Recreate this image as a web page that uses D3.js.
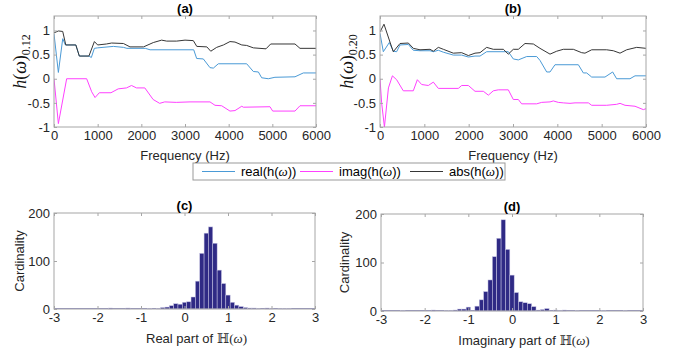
<!DOCTYPE html>
<html>
<head>
<meta charset="utf-8">
<script src="https://cdn.jsdelivr.net/npm/d3@7"></script>
<style>
  body { margin: 0; background: #fff; }
</style>
</head>
<body>
<svg id="chart" width="683" height="356" font-family="'Liberation Sans', Arial, sans-serif"></svg>
<script>
// ---- panel (a): h(w)_0.12 ----
const absA_f  = [0, 100, 200, 270, 500, 580, 800, 925, 1000, 1200, 1320, 1590, 1740, 2050, 2275, 2465, 2580, 2810, 3000, 3190, 3270, 3500, 3590, 3725, 3880, 4030, 4145, 4300, 4412, 4565, 4855, 4962, 5519, 5633, 6000];
const absA_v  = [0.95, 0.99, 0.98, 0.70, 0.70, 0.47, 0.47, 0.77, 0.70, 0.72, 0.74, 0.73, 0.66, 0.66, 0.75, 0.80, 0.78, 0.78, 0.80, 0.79, 0.67, 0.66, 0.57, 0.65, 0.70, 0.77, 0.76, 0.70, 0.69, 0.64, 0.62, 0.72, 0.72, 0.63, 0.63];
const realA_f = [0, 100, 200, 260, 500, 580, 800, 855, 924, 1000, 1360, 1590, 1670, 2090, 2200, 3200, 3267, 3420, 3572, 3649, 3763, 4412, 4565, 4680, 4756, 4908, 5060, 5519, 5710, 6000];
const realA_v = [0.93, 0.13, 0.83, 0.70, 0.70, 0.47, 0.47, 0.44, 0.63, 0.64, 0.67, 0.65, 0.63, 0.63, 0.60, 0.60, 0.42, 0.41, 0.23, 0.22, 0.31, 0.31, 0.15, 0.14, 0.02, 0.00, 0.03, 0.04, 0.12, 0.12];
const imagA_f = [0, 100, 290, 748, 863, 940, 1038, 1305, 1470, 1660, 1775, 1890, 2080, 2270, 2420, 2535, 2800, 3115, 3572, 3687, 3840, 4030, 4145, 4300, 4336, 4946, 5008, 5519, 5633, 6000];
const imagA_v = [0.0, -0.93, 0.0, 0.0, -0.27, -0.39, -0.29, -0.29, -0.21, -0.19, -0.14, -0.19, -0.19, -0.43, -0.51, -0.48, -0.49, -0.48, -0.48, -0.55, -0.56, -0.67, -0.66, -0.57, -0.59, -0.58, -0.67, -0.67, -0.56, -0.56];

// ---- panel (b): h(w)_0.20 ----
const absB_f  = [0, 90, 225, 300, 451, 639, 751, 902, 1128, 1203, 1316, 1429, 1654, 1842, 1993, 2143, 2256, 2406, 2556, 2782, 2894, 3007, 3120, 3271, 3459, 3609, 3835, 3985, 4135, 4361, 4549, 4624, 4775, 5113, 5263, 5414, 5564, 5790, 6000];
const absB_v  = [0.97, 1.13, 0.76, 0.56, 0.73, 0.74, 0.63, 0.60, 0.61, 0.57, 0.65, 0.61, 0.53, 0.54, 0.48, 0.53, 0.54, 0.65, 0.61, 0.61, 0.51, 0.61, 0.61, 0.73, 0.72, 0.63, 0.51, 0.57, 0.61, 0.61, 0.54, 0.53, 0.60, 0.60, 0.58, 0.53, 0.60, 0.65, 0.63];
const realB_f = [0, 75, 210, 300, 375, 451, 639, 751, 902, 1128, 1203, 1316, 1429, 1654, 1842, 1993, 2143, 2256, 2406, 2894, 3007, 3120, 3309, 3534, 3609, 3760, 3835, 3947, 4474, 4587, 4662, 4775, 5075, 5248, 5338, 5639, 5752, 6000];
const realB_v = [0.94, 0.56, 0.75, 0.57, 0.56, 0.70, 0.71, 0.59, 0.58, 0.58, 0.56, 0.59, 0.55, 0.49, 0.49, 0.45, 0.47, 0.47, 0.56, 0.56, 0.41, 0.39, 0.46, 0.46, 0.38, 0.14, 0.14, 0.29, 0.29, 0.12, 0.12, 0.035, 0.035, 0.14, 0.0, 0.0, 0.06, 0.06];
const imagB_f = [0, 37, 100, 190, 280, 375, 525, 751, 842, 940, 1090, 1203, 1316, 1767, 1842, 1993, 2143, 2331, 2444, 2556, 2669, 2894, 3007, 3120, 3195, 3534, 3647, 3835, 3910, 4022, 4135, 4286, 4399, 4700, 4775, 5113, 5338, 5414, 5527, 5752, 5940, 6000];
const imagB_v = [0.0, -0.5, -1.0, -0.19, 0.06, -0.02, -0.25, -0.25, -0.02, -0.12, -0.14, -0.07, -0.2, -0.2, -0.14, -0.14, -0.26, -0.26, -0.34, -0.25, -0.23, -0.23, -0.43, -0.43, -0.52, -0.52, -0.49, -0.48, -0.46, -0.49, -0.50, -0.51, -0.50, -0.50, -0.55, -0.55, -0.53, -0.51, -0.55, -0.57, -0.64, -0.62];

// ---- panel (c): histogram of real part ----
const histC_bins   = [-1.7, -1.3, -0.8, -0.6, -0.5, -0.4, -0.3, -0.2, -0.1, 0.0, 0.1, 0.2, 0.3, 0.4, 0.5, 0.6, 0.7, 0.8, 0.9, 1.0, 1.1, 1.2, 1.3, 1.4, 1.5, 1.6, 1.7, 1.9, 2.0, 2.2, 2.3, 2.4];
const histC_counts = [2, 2, 1, 1, 3, 4, 7, 11, 10, 14, 15, 25, 58, 116, 158, 171, 137, 81, 53, 29, 14, 8, 5, 3, 2, 2, 1, 2, 1, 1, 1, 1];

// ---- panel (d): histogram of imaginary part ----
const histD_bins   = [-2.5, -1.8, -1.5, -1.4, -1.3, -1.2, -1.1, -1.0, -0.8, -0.7, -0.6, -0.5, -0.4, -0.3, -0.2, -0.1, 0.0, 0.1, 0.2, 0.3, 0.4, 0.5, 0.6, 0.7, 0.8, 1.0, 1.1, 1.2, 1.5, 2.1, 2.6];
const histD_counts = [1, 2, 1, 1, 2, 4, 4, 8, 10, 23, 40, 64, 112, 150, 188, 127, 74, 38, 19, 17, 15, 9, 2, 3, 5, 2, 1, 2, 1, 1, 1];

const freqTicks = [0, 1000, 2000, 3000, 4000, 5000, 6000];
const hTicks = [-1, -0.5, 0, 0.5, 1];
const histXTicks = [-3, -2, -1, 0, 1, 2, 3];
const histYTicks = [0, 100, 200];

const COLORS = { real: '#4a9ad6', imag: '#ff40ff', abs: '#363636', bar: '#2f2a85', axis: '#a6a6a6', text: '#262626' };
const SERIF = "'Liberation Serif', 'Times New Roman', serif";

const svg = d3.select('#chart');

function zip(f, v) { return f.map((d, i) => [d, v[i]]); }

// draw the frame, ticks on all four sides (inward), labels on bottom/left
function frame(g, x, y, xTicks, yTicks) {
    const w = x.range()[1] - x.range()[0];
    const h = y.range()[0] - y.range()[1];
    const fmt = d => String(d);

    const bottom = g.append('g').attr('transform', `translate(0,${h})`)
        .call(d3.axisBottom(x).tickValues(xTicks).tickFormat(fmt).tickSizeInner(-3).tickSizeOuter(0).tickPadding(4));
    const left = g.append('g')
        .call(d3.axisLeft(y).tickValues(yTicks).tickFormat(fmt).tickSizeInner(-3).tickSizeOuter(0).tickPadding(4));
    const top = g.append('g')
        .call(d3.axisTop(x).tickValues(xTicks).tickFormat('').tickSizeInner(-3).tickSizeOuter(0));
    const right = g.append('g').attr('transform', `translate(${w},0)`)
        .call(d3.axisRight(y).tickValues(yTicks).tickFormat('').tickSizeInner(-3).tickSizeOuter(0));

    [bottom, left, top, right].forEach(a => {
        a.attr('font-family', null).attr('font-size', 13);
        a.select('.domain').remove();
        a.selectAll('line').attr('stroke', COLORS.axis);
        a.selectAll('text').attr('fill', COLORS.text);
    });

    g.append('rect')
        .attr('width', w).attr('height', h)
        .attr('fill', 'none').attr('stroke', COLORS.axis).attr('stroke-width', 1);
}

function linePanel(opts) {
    const g = svg.append('g').attr('transform', `translate(${opts.left},${opts.top})`);
    const x = d3.scaleLinear().domain([0, 6000]).range([0, opts.width]);
    const y = d3.scaleLinear().domain([-1, 1.3]).range([opts.height, 0]);

    g.append('clipPath').attr('id', opts.id + '-clip')
        .append('rect').attr('width', opts.width).attr('height', opts.height);

    const line = d3.line().x(d => x(d[0])).y(d => y(d[1]));
    const lines = g.append('g').attr('clip-path', `url(#${opts.id}-clip)`);
    opts.series.forEach(s => {
        lines.append('path')
            .datum(s.data)
            .attr('d', line)
            .attr('fill', 'none')
            .attr('stroke', s.color)
            .attr('stroke-width', 1);
    });

    frame(g, x, y, freqTicks, hTicks);

    g.append('text')
        .attr('x', opts.width / 2).attr('y', -3)
        .attr('text-anchor', 'middle')
        .attr('font-weight', 'bold').attr('font-size', 13)
        .attr('fill', '#000')
        .text(opts.title);

    g.append('text')
        .attr('x', opts.width / 2).attr('y', opts.height + 33)
        .attr('text-anchor', 'middle').attr('font-size', 13)
        .attr('fill', COLORS.text)
        .text('Frequency (Hz)');

    // LaTeX-like y label h(w)_sub
    const yl = g.append('text')
        .attr('transform', `translate(${opts.ylabelX},${opts.height / 2 - 10}) rotate(-90)`)
        .attr('text-anchor', 'middle')
        .attr('font-family', SERIF)
        .attr('font-size', 18)
        .attr('fill', '#111');
    yl.append('tspan').attr('font-style', 'italic').text('h');
    yl.append('tspan').text('(');
    yl.append('tspan').attr('font-style', 'italic').text('ω');
    yl.append('tspan').text(')');
    yl.append('tspan').attr('font-size', 12).attr('dy', 4).text(opts.sub);
}

function histPanel(opts) {
    const g = svg.append('g').attr('transform', `translate(${opts.left},${opts.top})`);
    const x = d3.scaleLinear().domain([-3, 3]).range([0, opts.width]);
    const y = d3.scaleLinear().domain([0, 200]).range([opts.height, 0]);
    const bw = 0.1;

    // empty bins along the whole range show as a thin baseline
    g.append('line')
        .attr('x1', 0).attr('x2', opts.width)
        .attr('y1', opts.height - 0.5).attr('y2', opts.height - 0.5)
        .attr('stroke', '#8e8bc4').attr('stroke-width', 1);

    g.selectAll('rect.bar')
        .data(zip(opts.bins, opts.counts))
        .enter()
        .append('rect')
        .attr('class', 'bar')
        .attr('x', d => x(d[0] - bw / 2))
        .attr('width', d => x(d[0] + bw / 2) - x(d[0] - bw / 2))
        .attr('y', d => y(d[1]))
        .attr('height', d => y(0) - y(d[1]))
        .attr('fill', COLORS.bar)
        .attr('stroke', '#c9c7e6')
        .attr('stroke-width', 0.5);

    frame(g, x, y, histXTicks, histYTicks);

    g.append('text')
        .attr('x', opts.width / 2).attr('y', -3)
        .attr('text-anchor', 'middle')
        .attr('font-weight', 'bold').attr('font-size', 13)
        .attr('fill', '#000')
        .text(opts.title);

    g.append('text')
        .attr('transform', `translate(${opts.ylabelX},${opts.height / 2}) rotate(-90)`)
        .attr('text-anchor', 'middle').attr('font-size', 13)
        .attr('fill', COLORS.text)
        .text('Cardinality');

    const xl = g.append('text')
        .attr('x', opts.width / 2 + 12).attr('y', opts.height + 34)
        .attr('text-anchor', 'middle').attr('font-size', 13)
        .attr('fill', COLORS.text);
    xl.append('tspan').text(opts.xlabel + ' ');
    xl.append('tspan').attr('font-family', '"DejaVu Serif", serif').text('ℍ');
    xl.append('tspan').attr('font-family', SERIF).text('(');
    xl.append('tspan').attr('font-family', SERIF).attr('font-style', 'italic').text('ω');
    xl.append('tspan').attr('font-family', SERIF).text(')');
}

linePanel({
    id: 'a', left: 54, top: 16, width: 262, height: 111, title: '(a)', sub: '0.12', ylabelX: -28,
    series: [
        { data: zip(realA_f, realA_v), color: COLORS.real },
        { data: zip(imagA_f, imagA_v), color: COLORS.imag },
        { data: zip(absA_f, absA_v), color: COLORS.abs }
    ]
});

linePanel({
    id: 'b', left: 380, top: 16, width: 266, height: 111, title: '(b)', sub: '0.20', ylabelX: -27,
    series: [
        { data: zip(realB_f, realB_v), color: COLORS.real },
        { data: zip(imagB_f, imagB_v), color: COLORS.imag },
        { data: zip(absB_f, absB_v), color: COLORS.abs }
    ]
});

histPanel({ left: 54, top: 213, width: 261, height: 96, title: '(c)', bins: histC_bins, counts: histC_counts, xlabel: 'Real part of', ylabelX: -30 });
histPanel({ left: 381, top: 214, width: 262, height: 97, title: '(d)', bins: histD_bins, counts: histD_counts, xlabel: 'Imaginary part of', ylabelX: -32 });

// legend
const legendItems = [
    { label: 'real', color: COLORS.real, x: 9 },
    { label: 'imag', color: COLORS.imag, x: 107 },
    { label: 'abs', color: COLORS.abs, x: 217 }
];
const legend = svg.append('g').attr('transform', 'translate(193,163)');
legend.append('rect')
    .attr('width', 312).attr('height', 17)
    .attr('fill', '#fff').attr('stroke', '#9a9a9a').attr('stroke-width', 1);
legendItems.forEach(d => {
    legend.append('line')
        .attr('x1', d.x).attr('x2', d.x + 33)
        .attr('y1', 8.5).attr('y2', 8.5)
        .attr('stroke', d.color).attr('stroke-width', 1);
    const t = legend.append('text')
        .attr('x', d.x + 39).attr('y', 13)
        .attr('font-size', 13).attr('fill', '#000');
    t.append('tspan').text(d.label + '(h(');
    t.append('tspan').attr('font-family', SERIF).attr('font-style', 'italic').text('ω');
    t.append('tspan').text('))');
});
</script>
</body>
</html>
